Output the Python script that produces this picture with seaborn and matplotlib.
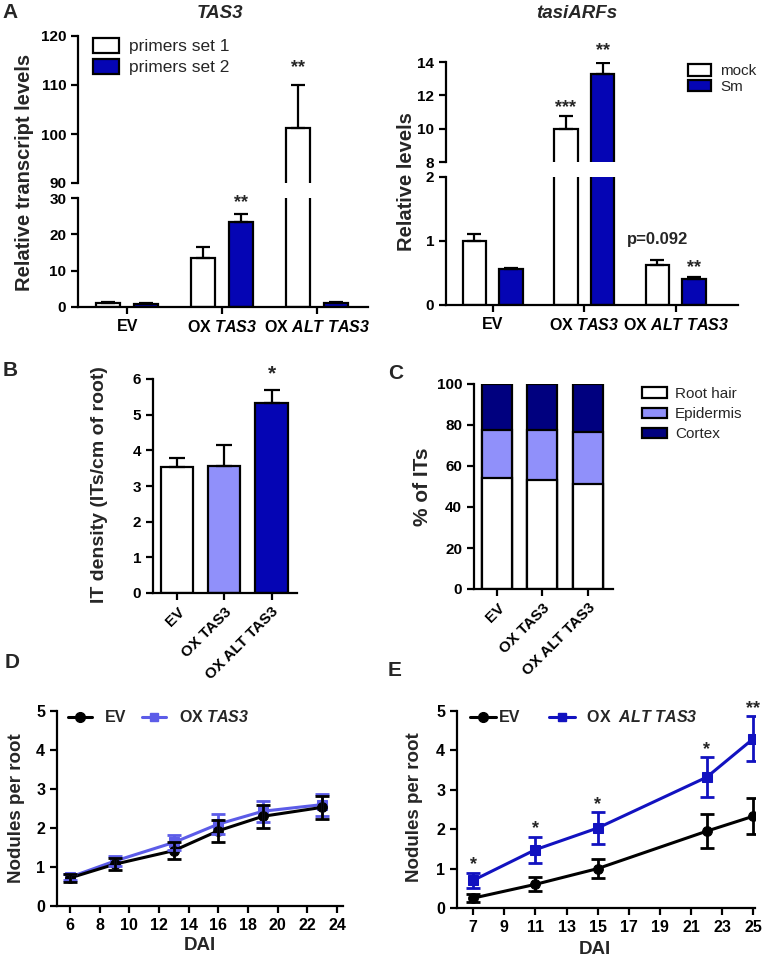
import matplotlib
matplotlib.use("Agg")
import matplotlib.pyplot as plt
from matplotlib.patches import Patch
from matplotlib.lines import Line2D
import numpy as np
import pandas as pd
import seaborn as sns

# ---- data ----
groups = ["EV", "OX TAS3", "OX ALT TAS3"]
group_labels = ["EV", "OX $\\mathrm{TAS3}$", "OX $\\mathrm{ALT\\ TAS3}$"]
rot_labels = ["EV", "OX TAS3", "OX ALT TAS3"]

# A, TAS3
tas3_series = ["primers set 1", "primers set 2"]
tas3_set1 = [1.0, 13.5, 101.2]
tas3_set1_err = [0.5, 3.0, 8.9]
tas3_set2 = [0.9, 23.5, 1.0]
tas3_set2_err = [0.1, 2.0, 0.35]

# A, tasiARFs
tasi_series = ["mock", "Sm"]
tasi_mock = [1.0, 10.0, 0.62]
tasi_mock_err = [0.11, 0.78, 0.08]
tasi_sm = [0.57, 13.3, 0.41]
tasi_sm_err = [0.01, 0.65, 0.02]

# B
it_density = [3.53, 3.55, 5.33]
it_density_err = [0.25, 0.6, 0.35]

# C
it_types = ["Root hair", "Epidermis", "Cortex"]
root_hair = [54.0, 53.0, 51.0]
epidermis = [23.5, 24.5, 25.5]
cortex = [22.5, 22.5, 23.5]

# D
dai_d = [6, 9, 13, 16, 19, 23]
ev_d = [0.72, 1.07, 1.42, 1.93, 2.30, 2.53]
ev_d_err = [0.10, 0.15, 0.22, 0.28, 0.30, 0.30]
ox_d = [0.74, 1.15, 1.63, 2.10, 2.43, 2.60]
ox_d_err = [0.08, 0.12, 0.20, 0.25, 0.27, 0.28]

# E
dai_e = [7, 11, 15, 22, 25]
ev_e = [0.25, 0.60, 1.00, 1.95, 2.33]
ev_e_err = [0.10, 0.18, 0.25, 0.43, 0.45]
alt_e = [0.70, 1.48, 2.03, 3.32, 4.30]
alt_e_err = [0.20, 0.33, 0.40, 0.50, 0.57]
alt_e_sig = ["*", "*", "*", "*", "**"]

# ---- style ----
BLUE = "#0505b4"
LIGHT = "#9090fa"
NAVY = "#00007f"
LINE_D = "#5c5ce8"
LINE_E = "#1212c0"
LW = 1.6

sns.set_style("ticks")
plt.rcParams.update({
    "font.family": ["Liberation Sans", "DejaVu Sans"],
    "font.weight": "bold",
    "font.size": 11,
    "axes.linewidth": LW,
    "xtick.major.width": LW,
    "ytick.major.width": LW,
    "xtick.major.size": 5,
    "ytick.major.size": 5,
    "xtick.labelsize": 11,
    "ytick.labelsize": 11,
    "xtick.color": "black",
    "ytick.color": "black",
    "axes.edgecolor": "black",
    # math segments are only used for the italic gene names
    "mathtext.fontset": "custom",
    "mathtext.rm": "Liberation Sans:bold:italic",
    "mathtext.it": "Liberation Sans:bold:italic",
    "mathtext.bf": "Liberation Sans:bold",
})

W, H = 765, 956
fig = plt.figure(figsize=(W / 100, H / 100), dpi=100)


def add_ax(l, t, r, b):
    return fig.add_axes([l / W, 1 - b / H, (r - l) / W, (b - t) / H])


def ftext(x, y, s, **kw):
    fig.text(x / W, 1 - y / H, s, ha="center", va="center", **kw)


def grouped_bars(ax, df, series, palette, errs):
    sns.barplot(data=df, x="group", y="value", hue="series", order=groups,
                hue_order=series, palette=palette, saturation=1, edgecolor="black",
                linewidth=LW, gap=0.36, errorbar=None, legend=False, ax=ax)
    for cont, err in zip(ax.containers, errs):
        xs = [p.get_x() + p.get_width() / 2 for p in cont]
        ys = [p.get_height() for p in cont]
        ax.errorbar(xs, ys, yerr=[np.zeros(len(err)), err], fmt="none", ecolor="black",
                    elinewidth=LW, capsize=5, capthick=LW, zorder=5)


def broken_pair(top_rect, bot_rect, ylim_top, ylim_bot, yt_top, yt_bot):
    up = add_ax(*top_rect)
    lo = add_ax(*bot_rect)
    for a in (up, lo):
        sns.despine(ax=a)
    up.spines["bottom"].set_visible(False)
    up.tick_params(axis="x", bottom=False, labelbottom=False)
    up.set_ylim(*ylim_top)
    lo.set_ylim(*ylim_bot)
    up.set_yticks(yt_top)
    lo.set_yticks(yt_bot)
    return up, lo


def mid(p):
    return p.get_x() + p.get_width() / 2


# ---- A: TAS3 ----
df_tas3 = pd.DataFrame({
    "group": groups * 2,
    "series": [tas3_series[0]] * 3 + [tas3_series[1]] * 3,
    "value": tas3_set1 + tas3_set2,
})
axA_up, axA_lo = broken_pair((78, 36, 368, 183), (78, 198, 368, 307), (90, 120), (0, 30),
                             [90, 100, 110, 120], [0, 10, 20, 30])
for a in (axA_up, axA_lo):
    grouped_bars(a, df_tas3, tas3_series, ["white", BLUE], [tas3_set1_err, tas3_set2_err])
    a.set_xlabel("")
    a.set_ylabel("")
    a.set_xlim(-0.52, 2.54)
axA_lo.set_xticks(range(3))
axA_lo.set_xticklabels(group_labels, fontsize=11.5)
axA_up.text(mid(axA_up.containers[0][2]), tas3_set1[2] + tas3_set1_err[2] + 3.5, "**",
            ha="center", va="center", fontsize=13, clip_on=False)
axA_lo.text(mid(axA_lo.containers[1][1]), tas3_set2[1] + tas3_set2_err[1] + 3.2, "**",
            ha="center", va="center", fontsize=13, clip_on=False)
axA_up.legend(handles=[Patch(facecolor="white", edgecolor="black", linewidth=LW, label=tas3_series[0]),
                       Patch(facecolor=BLUE, edgecolor="black", linewidth=LW, label=tas3_series[1])],
              loc="upper left", bbox_to_anchor=(86 / W, 1 - 31 / H), bbox_transform=fig.transFigure,
              frameon=False, prop={"weight": "normal", "size": 12.5}, handlelength=1.5,
              handleheight=0.95, handletextpad=0.6, labelspacing=0.25, borderaxespad=0)
ftext(220, 14, "TAS3", fontsize=13.5, fontstyle="italic")
ftext(25, 172, "Relative transcript levels", fontsize=14.5, rotation=90)
ftext(10, 13, "A", fontsize=15)

# ---- A: tasiARFs ----
df_tasi = pd.DataFrame({
    "group": groups * 2,
    "series": [tasi_series[0]] * 3 + [tasi_series[1]] * 3,
    "value": tasi_mock + tasi_sm,
})
axT_up, axT_lo = broken_pair((446, 62, 738, 162), (446, 177, 738, 305), (8, 14), (0, 2),
                             [8, 10, 12, 14], [0, 1, 2])
for a in (axT_up, axT_lo):
    grouped_bars(a, df_tasi, tasi_series, ["white", BLUE], [tasi_mock_err, tasi_sm_err])
    a.set_xlabel("")
    a.set_ylabel("")
    a.set_xlim(-0.51, 2.68)
axT_lo.set_xticks(range(3))
axT_lo.set_xticklabels(group_labels, fontsize=11.5)
axT_up.text(mid(axT_up.containers[0][1]), tasi_mock[1] + tasi_mock_err[1] + 0.5, "***",
            ha="center", va="center", fontsize=13, clip_on=False)
axT_up.text(mid(axT_up.containers[1][1]), tasi_sm[1] + tasi_sm_err[1] + 0.75, "**",
            ha="center", va="center", fontsize=13, clip_on=False)
axT_lo.text(mid(axT_lo.containers[1][2]), tasi_sm[2] + tasi_sm_err[2] + 0.15, "**",
            ha="center", va="center", fontsize=13, clip_on=False)
axT_lo.text(mid(axT_lo.containers[0][2]), 1.02, "p=0.092",
            ha="center", va="center", fontsize=12, clip_on=False)
axT_up.legend(handles=[Patch(facecolor="white", edgecolor="black", linewidth=LW, label=tasi_series[0]),
                       Patch(facecolor=BLUE, edgecolor="black", linewidth=LW, label=tasi_series[1])],
              loc="upper left", bbox_to_anchor=(682 / W, 1 - 58 / H), bbox_transform=fig.transFigure,
              frameon=False, prop={"weight": "normal", "size": 11}, handlelength=1.5,
              handleheight=0.8, handletextpad=0.6, labelspacing=0.1, borderaxespad=0)
ftext(577, 14, "tasiARFs", fontsize=13.5, fontstyle="italic")
ftext(407, 182, "Relative levels", fontsize=14.5, rotation=90)

# ---- B ----
axB = add_ax(153, 379, 297, 593)
sns.barplot(x=groups, y=it_density, hue=groups, palette=["white", LIGHT, BLUE], saturation=1,
            edgecolor="black", linewidth=LW, width=0.68, errorbar=None, legend=False, ax=axB)
xs = [mid(p) for c in axB.containers for p in c]
ys = [p.get_height() for c in axB.containers for p in c]
axB.errorbar(xs, ys, yerr=[np.zeros(3), it_density_err], fmt="none", ecolor="black",
             elinewidth=LW, capsize=6, capthick=LW, zorder=5)
axB.text(xs[2], it_density[2] + it_density_err[2] + 0.45, "*", ha="center", va="center",
         fontsize=15, clip_on=False)
axB.set_xlim(-0.51, 2.54)
axB.set_ylim(0, 6)
axB.set_yticks(range(7))
axB.set_xticks(range(3))
axB.set_xticklabels(rot_labels, rotation=45, ha="right", rotation_mode="anchor", fontsize=11)
sns.despine(ax=axB)
ftext(100, 485, "IT density (ITs/cm of root)", fontsize=14, rotation=90)
ftext(10, 370, "B", fontsize=15)

# ---- C ----
axC = add_ax(474, 384, 613, 589)
cum_epi = np.add(root_hair, epidermis)
cum_all = cum_epi + np.array(cortex)
for heights, color in [(cum_all, NAVY), (cum_epi, LIGHT), (root_hair, "white")]:
    sns.barplot(x=groups, y=heights, color=color, saturation=1, edgecolor="black",
                linewidth=LW, width=0.66, errorbar=None, ax=axC)
axC.set_xlim(-0.51, 2.56)
axC.set_ylim(0, 100)
axC.set_yticks(range(0, 101, 20))
axC.set_xticks(range(3))
axC.set_xticklabels(rot_labels, rotation=45, ha="right", rotation_mode="anchor", fontsize=11)
sns.despine(ax=axC)
axC.legend(handles=[Patch(facecolor=c, edgecolor="black", linewidth=LW, label=l)
                    for c, l in zip(["white", LIGHT, NAVY], it_types)],
           loc="upper left", bbox_to_anchor=(636 / W, 1 - 381 / H), bbox_transform=fig.transFigure,
           frameon=False, prop={"weight": "normal", "size": 11}, handlelength=1.6,
           handleheight=0.7, handletextpad=0.55, labelspacing=0.4, borderaxespad=0)
ftext(422, 487, "% of ITs", fontsize=15, rotation=90)
ftext(396, 373, "C", fontsize=15)


# ---- D / E ----
def line_panel(ax, x, series, xlim, xticks):
    for y, err, color, marker in series:
        sns.lineplot(x=x, y=y, color=color, marker=marker, markersize=7, markeredgecolor=color,
                     linewidth=2.2, ax=ax)
        ax.errorbar(x, y, yerr=err, fmt="none", ecolor=color, elinewidth=2, capsize=5,
                    capthick=2, zorder=4)
    ax.set_xlim(*xlim)
    ax.set_ylim(0, 5)
    ax.set_xticks(xticks)
    ax.set_yticks(range(6))
    ax.tick_params(labelsize=11.5)
    sns.despine(ax=ax)


axD = add_ax(57, 711, 343, 906)
line_panel(axD, dai_d, [(ox_d, ox_d_err, LINE_D, "s"), (ev_d, ev_d_err, "black", "o")],
           (5.12, 24.4), range(6, 25, 2))
axD.legend(handles=[Line2D([], [], color="black", marker="o", lw=2.2, ms=7, label="EV"),
                    Line2D([], [], color=LINE_D, marker="s", lw=2.2, ms=6, label="OX $\\mathrm{TAS3}$")],
           loc="upper left", bbox_to_anchor=(62 / W, 1 - 703 / H), bbox_transform=fig.transFigure,
           ncol=2, frameon=False, prop={"weight": "bold", "size": 11.5}, handlelength=1.5,
           handletextpad=0.8, columnspacing=1.0, borderaxespad=0)
ftext(17, 808, "Nodules per root", fontsize=13.5, rotation=90)
ftext(200, 946, "DAI", fontsize=13.5)
ftext(12, 663, "D", fontsize=15)

axE = add_ax(457, 711, 755, 908)
line_panel(axE, dai_e, [(alt_e, alt_e_err, LINE_E, "s"), (ev_e, ev_e_err, "black", "o")],
           (5.97, 25.1), range(7, 26, 2))
for x, y, e, s in zip(dai_e, alt_e, alt_e_err, alt_e_sig):
    axE.text(x, y + e + 0.2, s, ha="center", va="center", fontsize=13, clip_on=False)
axE.legend(handles=[Line2D([], [], color="black", marker="o", lw=2.2, ms=7, label="EV"),
                    Line2D([], [], color=LINE_E, marker="s", lw=2.2, ms=6,
                           label="  OX  $\\mathrm{ALT\\ TAS3}$")],
           loc="upper left", bbox_to_anchor=(464 / W, 1 - 703 / H), bbox_transform=fig.transFigure,
           ncol=2, frameon=False, prop={"weight": "bold", "size": 11.5}, handlelength=1.6,
           handletextpad=0.2, columnspacing=1.8, borderaxespad=0)
ftext(415, 807, "Nodules per root", fontsize=13.5, rotation=90)
ftext(595, 949, "DAI", fontsize=13.5)
ftext(395, 670, "E", fontsize=15)

fig.savefig("out.png", dpi=100)
